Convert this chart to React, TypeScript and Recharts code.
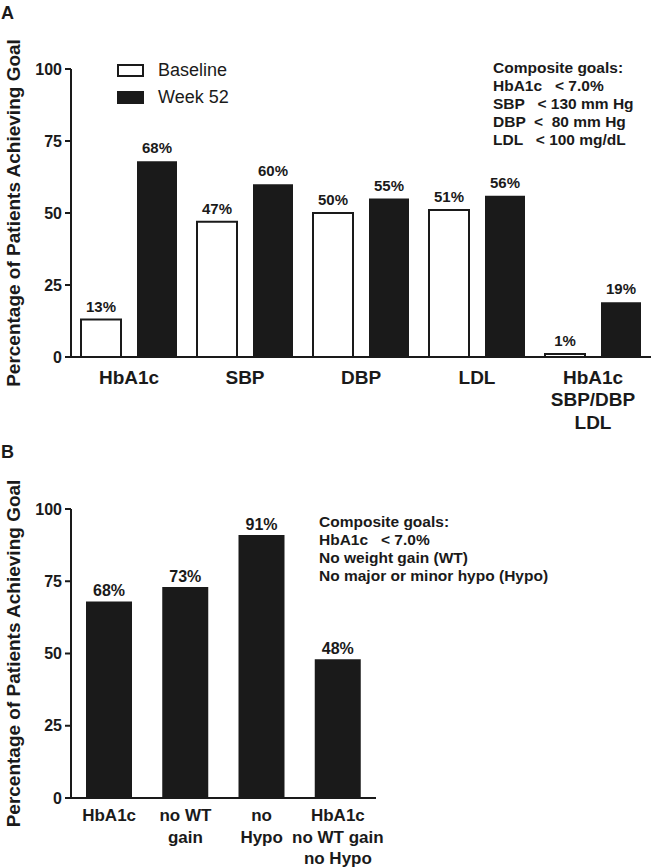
import React from 'react';
import { BarChart, Bar, XAxis, YAxis, LabelList, Label } from 'recharts';

const FONT = '"Liberation Sans", Arial, Helvetica, sans-serif';
const INK = '#1a1a1a';

const categoriesA = ['HbA1c', 'SBP', 'DBP', 'LDL', 'HbA1c\nSBP/DBP\nLDL'];
const baselineA = [13, 47, 50, 51, 1];
const week52A = [68, 60, 55, 56, 19];

const categoriesB = ['HbA1c', 'no WT\ngain', 'no\nHypo', 'HbA1c\nno WT gain\nno Hypo'];
const week52B = [68, 73, 91, 48];

const yTicks = [0, 25, 50, 75, 100];
const legendItems = ['Baseline', 'Week 52'];
const goalsA = ['Composite goals:', 'HbA1c   < 7.0%', 'SBP   < 130 mm Hg', 'DBP  <  80 mm Hg', 'LDL   < 100 mg/dL'];
const goalsB = ['Composite goals:', 'HbA1c   < 7.0%', 'No weight gain (WT)', 'No major or minor hypo (Hypo)'];
const yLabel = 'Percentage of Patients Achieving Goal';

const dataA = categoriesA.map((c, i) => ({ name: c, baseline: baselineA[i], week52: week52A[i] }));
const dataB = categoriesB.map((c, i) => ({ name: c, week52: week52B[i] }));

const pct = (v: any) => `${v}%`;

function MultiTick(props: any) {
  const { x, y, payload, fontSize, lineHeight, firstDy } = props;
  const lines = String(payload.value).split('\n');
  return (
    <text x={x} y={y} textAnchor="middle" fontFamily={FONT} fontWeight="bold" fontSize={fontSize} fill={INK}>
      {lines.map((l, i) => (
        <tspan key={i} x={x} dy={i === 0 ? firstDy : lineHeight}>{l}</tspan>
      ))}
    </text>
  );
}

function YTitle(props: any) {
  const vb = props.viewBox || {};
  const cx = (vb.x || 0) + 13;
  const cy = (vb.y || 0) + (vb.height || 0) / 2;
  return (
    <text x={cx} y={cy} transform={`rotate(-90 ${cx} ${cy})`} textAnchor="middle" dominantBaseline="central"
      fontFamily={FONT} fontWeight="bold" fontSize={19} fill={INK}>
      {yLabel}
    </text>
  );
}

const axisLine = { stroke: INK, strokeWidth: 2 };
const yTick = { fontSize: 16, fontWeight: 'bold', fill: INK, fontFamily: FONT };

function TextBlock({ lines, left, top }: { lines: string[]; left: number; top: number }) {
  return (
    <div style={{ position: 'absolute', left, top, fontFamily: FONT, fontWeight: 'bold', fontSize: 15.5, lineHeight: '18px', color: INK, whiteSpace: 'pre' }}>
      {lines.map((l, i) => <div key={i}>{l}</div>)}
    </div>
  );
}

export default function App() {
  return (
    <div style={{ position: 'absolute', left: 0, top: 0, width: 651, height: 867, background: '#fff', fontFamily: FONT, overflow: 'hidden' }}>
      <div style={{ position: 'absolute', left: 0, top: 0 }}>
        <BarChart width={651} height={440} data={dataA} margin={{ top: 69, right: 0, left: 0, bottom: 0 }} barSize={40} barGap={16}>
          <YAxis width={71} domain={[0, 100]} ticks={yTicks} interval={0} axisLine={axisLine} tickLine={axisLine} tickSize={6} tickMargin={3} tick={yTick}>
            <Label content={<YTitle />} />
          </YAxis>
          <XAxis dataKey="name" height={83} axisLine={axisLine} tickLine={false} tickSize={0} tickMargin={0} interval={0}
            tick={(p: any) => <MultiTick {...p} fontSize={19} lineHeight={22.5} firstDy={26.5} />} />
          <Bar dataKey="baseline" fill="#ffffff" stroke={INK} strokeWidth={2} isAnimationActive={false}>
            <LabelList dataKey="baseline" position="top" offset={8} formatter={pct} fill={INK} fontSize={15} fontWeight="bold" fontFamily={FONT} />
          </Bar>
          <Bar dataKey="week52" fill={INK} isAnimationActive={false}>
            <LabelList dataKey="week52" position="top" offset={8} formatter={pct} fill={INK} fontSize={15} fontWeight="bold" fontFamily={FONT} />
          </Bar>
        </BarChart>
      </div>
      <div style={{ position: 'absolute', left: 0, top: 440 }}>
        <BarChart width={651} height={427} data={dataB} margin={{ top: 69, right: 275, left: 0, bottom: 0 }} barSize={46}>
          <YAxis width={71} domain={[0, 100]} ticks={yTicks} interval={0} axisLine={axisLine} tickLine={axisLine} tickSize={6} tickMargin={3} tick={yTick}>
            <Label content={<YTitle />} />
          </YAxis>
          <XAxis dataKey="name" height={69} axisLine={axisLine} tickLine={false} tickSize={0} tickMargin={0} interval={0}
            tick={(p: any) => <MultiTick {...p} fontSize={17} lineHeight={21.5} firstDy={23} />} />
          <Bar dataKey="week52" fill={INK} isAnimationActive={false}>
            <LabelList dataKey="week52" position="top" offset={5} formatter={pct} fill={INK} fontSize={16} fontWeight="bold" fontFamily={FONT} />
          </Bar>
        </BarChart>
      </div>

      <div style={{ position: 'absolute', left: 1, top: 4, fontSize: 18, lineHeight: '18px', fontWeight: 'bold', color: INK }}>A</div>
      <div style={{ position: 'absolute', left: 1, top: 443, fontSize: 18, lineHeight: '18px', fontWeight: 'bold', color: INK }}>B</div>

      {legendItems.map((name, i) => (
        <div key={name} style={{ position: 'absolute', left: 117, top: 61 + i * 27, height: 18, display: 'flex', alignItems: 'center' }}>
          <div style={{ width: 27, height: 13, boxSizing: 'border-box', border: `2px solid ${INK}`, background: i === 0 ? '#fff' : INK }} />
          <span style={{ marginLeft: 14, fontSize: 18, lineHeight: '18px', color: INK }}>{name}</span>
        </div>
      ))}

      <TextBlock lines={goalsA} left={493} top={59} />
      <TextBlock lines={goalsB} left={319} top={513} />
    </div>
  );
}
